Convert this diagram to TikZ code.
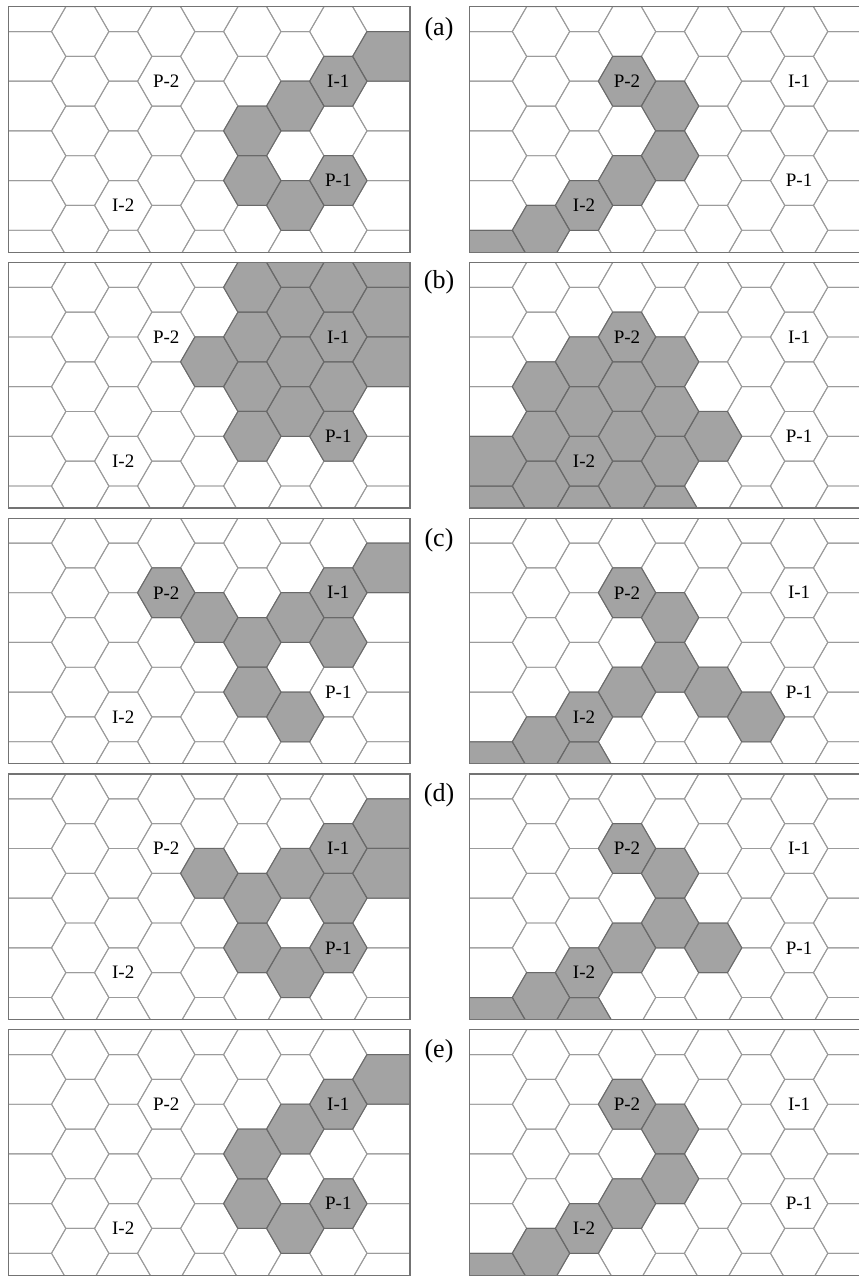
\documentclass[tikz,border=0pt]{standalone}
\usepackage{fontspec}
\setmainfont{Liberation Serif}
\definecolor{gridc}{RGB}{155,155,155}
\definecolor{cellfill}{RGB}{163,163,163}
\definecolor{celledge}{RGB}{105,105,105}
\definecolor{framec}{RGB}{115,115,115}
\tikzset{
  gridline/.style={draw=gridc, line width=0.95pt},
  graycell/.style={fill=cellfill},
  grayedge/.style={draw=celledge, line width=1.0pt},
  frameline/.style={draw=framec, line width=1.2pt},
  hexlabel/.style={font=\fontsize{19}{19}\selectfont, inner sep=0pt, text=black},
  panellabel/.style={font=\fontsize{26}{26}\selectfont, inner sep=0pt, text=black},
}
\def\hexs{28.68}
\def\hexh{24.84}
\def\panelW{401.52}
\def\panelH{245.5}
\newcommand\hexcell[5]{%
  \pgfmathsetmacro\hcx{#2+\hexs+1.5*\hexs*#4}%
  \pgfmathsetmacro\hcy{#3+\hexh*#5}%
  \pgfmathsetmacro\hxl{\hcx-\hexs}%
  \pgfmathsetmacro\hxr{\hcx+\hexs}%
  \pgfmathsetmacro\hxa{\hcx-0.5*\hexs}%
  \pgfmathsetmacro\hxb{\hcx+0.5*\hexs}%
  \pgfmathsetmacro\hyt{\hcy-\hexh}%
  \pgfmathsetmacro\hyb{\hcy+\hexh}%
  \ifnum#4=0
    \path[#1] (\hxl,\hyt) -- (\hxb,\hyt) -- (\hxr,\hcy) -- (\hxb,\hyb) -- (\hxl,\hyb) -- cycle;
  \else\ifnum#4=8
    \path[#1] (\hxa,\hyt) -- (\hxr,\hyt) -- (\hxr,\hyb) -- (\hxa,\hyb) -- (\hxl,\hcy) -- cycle;
  \else
    \path[#1] (\hxl,\hcy) -- (\hxa,\hyt) -- (\hxb,\hyt) -- (\hxr,\hcy) -- (\hxb,\hyb) -- (\hxa,\hyb) -- cycle;
  \fi\fi
}
\newcommand\hexpanel[4]{%
  \begin{scope}
    \clip (#2,#3) rectangle ({min(#2+\panelW,859)},{#3+\panelH});
    \foreach \k/\j in {#4}{\hexcell{graycell}{#2}{#3}{\k}{\j}}
    \foreach \k in {0,...,8}{\foreach \j in {0,...,10}{%
      \ifodd\numexpr\k+\j\relax\else\hexcell{gridline}{#2}{#3}{\k}{\j}\fi}}
    \foreach \k/\j in {#4}{\hexcell{grayedge}{#2}{#3}{\k}{\j}}
  \end{scope}
  \draw[frameline] (#2,#3) rectangle ({#2+\panelW},{#3+\panelH});
  \node[hexlabel] (#1-P2) at ({#2+5.5*\hexs},{#3+3*\hexh}) {P-2};
  \node[hexlabel] (#1-I1) at ({#2+11.5*\hexs},{#3+3*\hexh}) {I-1};
  \node[hexlabel] (#1-P1) at ({#2+11.5*\hexs},{#3+7*\hexh}) {P-1};
  \node[hexlabel] (#1-I2) at ({#2+4*\hexs},{#3+8*\hexh}) {I-2};
}
\begin{document}
\begin{tikzpicture}[x=1pt,y=-1pt]
\useasboundingbox (0,0) rectangle (859,1277);
\fill[white] (0,0) rectangle (859,1277);
\begin{scope}
\clip (0,0) rectangle (859,1277);
% (a)
\hexpanel{aL}{8.5}{6.7}{8/2,7/3,6/4,5/5,5/7,6/8,7/7}
\hexpanel{aR}{469.3}{6.7}{3/3,4/4,4/6,3/7,2/8,1/9,0/10}
\node[panellabel] (la) at (439,29) {(a)};
% (b)
\hexpanel{bL}{8.5}{262.45}{5/1,6/0,6/2,7/1,8/0,8/2,8/4,7/3,7/5,7/7,6/4,6/6,5/3,5/5,5/7,4/4}
\hexpanel{bR}{469.3}{262.45}{3/3,2/4,4/4,1/5,3/5,2/6,4/6,1/7,3/7,5/7,0/8,2/8,4/8,1/9,3/9,0/10,2/10,4/10}
\node[panellabel] (lb) at (439,282) {(b)};
% (c)
\hexpanel{cL}{8.5}{518.2}{3/3,4/4,5/5,6/4,7/3,8/2,7/5,5/7,6/8}
\hexpanel{cR}{469.3}{518.2}{3/3,4/4,4/6,3/7,5/7,6/8,2/8,1/9,0/10,2/10}
\node[panellabel] (lc) at (439,540) {(c)};
% (d)
\hexpanel{dL}{8.5}{773.95}{4/4,5/5,6/4,7/3,8/2,8/4,7/5,7/7,5/7,6/8}
\hexpanel{dR}{469.3}{773.95}{3/3,4/4,4/6,3/7,5/7,2/8,1/9,0/10,2/10}
\node[panellabel] (ld) at (439,795) {(d)};
% (e)
\hexpanel{eL}{8.5}{1029.7}{8/2,7/3,6/4,5/5,5/7,6/8,7/7}
\hexpanel{eR}{469.3}{1029.7}{3/3,4/4,4/6,3/7,2/8,1/9,0/10}
\node[panellabel] (le) at (439,1051) {(e)};
\end{scope}
\end{tikzpicture}
\end{document}
